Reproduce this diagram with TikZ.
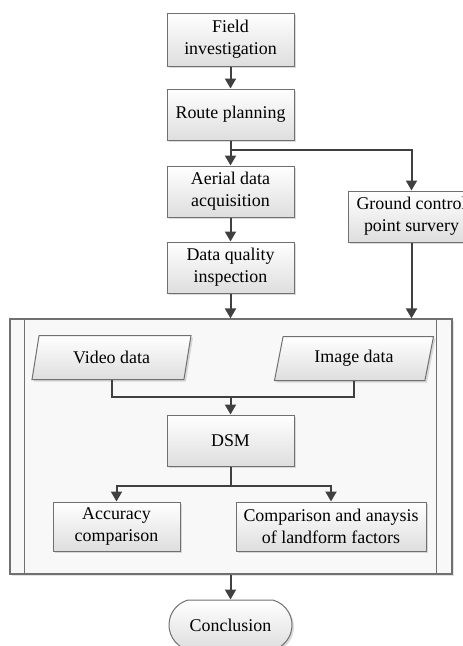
\documentclass[tikz,border=0pt]{standalone}
\usepackage{fontspec}
\setmainfont{Liberation Serif}
\usepackage{tikz}
\usetikzlibrary{positioning,arrows.meta,calc,shapes.geometric,shapes.misc,shadows}
\definecolor{edgec}{RGB}{112,112,112}
\definecolor{flowc}{RGB}{64,64,64}
\definecolor{panelc}{RGB}{248,248,248}
\newcommand\boxfont{\fontsize{17.9}{22}\selectfont}
\tikzset{
  stage/.style    = {draw=edgec, line width=1pt, top color=white, bottom color=black!13,
                     drop shadow={shadow xshift=2pt, shadow yshift=-2pt, fill=black!28},
                     minimum width=127pt, minimum height=51pt, inner sep=2pt,
                     align=center, font=\boxfont},
  io/.style       = {stage, trapezium, trapezium left angle=67, trapezium right angle=113,
                     trapezium stretches body, minimum width=159pt, minimum height=44pt},
  terminal/.style = {stage, rounded rectangle, rounded rectangle arc length=150,
                     minimum height=50pt},
  panel/.style    = {draw=edgec, line width=1.2pt, fill=panelc,
                     drop shadow={shadow xshift=2pt, shadow yshift=-2pt, fill=black!22},
                     minimum width=442pt, minimum height=255pt},
  flow/.style     = {-{Triangle[length=10pt, width=11pt]}, line width=2pt, draw=flowc},
  link/.style     = {line width=2pt, draw=flowc},
}
\begin{document}
\begin{tikzpicture}[x=1pt, y=-1pt]
\useasboundingbox (0,0) rectangle (463,646);

\node[panel] (panel) at (231,446.5) {};
\draw[edgec, line width=1.2pt] ($(panel.north west)+(15,0)$) -- ($(panel.south west)+(15,0)$);
\draw[edgec, line width=1.2pt] ($(panel.north east)+(-16,0)$) -- ($(panel.south east)+(-16,0)$);

\node[stage, minimum height=53pt] (field) at (230.5,39.5) {Field\\investigation};
\node[stage] (route) at (230.5,114.5) {Route planning};
\node[stage] (aerial) at (230.5,191.5) {Aerial data\\acquisition};
\node[stage] (quality) at (230.5,267.5) {Data quality\\inspection};
\node[stage] (ground) at (411.5,216.5) {Ground control\\point survery};

\node[io] (video) at (111.5,357.5) {Video data};
\node[io] (image) at (354,358.5) {Image data};
\node[stage] (dsm) at (230.5,440.5) {DSM};
\node[stage, minimum height=49pt] (acc) at (116.5,526.5) {Accuracy\\comparison};
\node[stage, minimum width=190pt, minimum height=49pt] (cmp) at (331,526.5)
  {Comparison and anaysis\\of landform factors};

\node[terminal] (concl) at (230.5,625) {Conclusion};

\coordinate (fork) at ($(route.south)+(0,9)$);
\coordinate (merge) at ($(dsm.north)+(0,-18)$);
\coordinate (split) at ($(dsm.south)+(0,19)$);

\draw[flow] (field) -- (route);
\draw[flow] (route) -- (aerial);
\draw[flow] (fork) -| (ground.north);
\draw[flow] (aerial) -- (quality);
\draw[flow] (quality) -- (quality |- panel.north);
\draw[flow] (ground) -- (ground |- panel.north);
% inputs into the DSM
\draw[link] (video.south) |- (merge);
\draw[link] (image.south) |- (merge);
\draw[flow] (merge) -- (dsm.north);
\draw[link] (dsm.south) -- (split);
\draw[flow] (split) -| (acc.north);
\draw[flow] (split) -| (cmp.north);
\draw[flow] (concl.north |- panel.south) -- (concl.north);

\end{tikzpicture}
\end{document}
